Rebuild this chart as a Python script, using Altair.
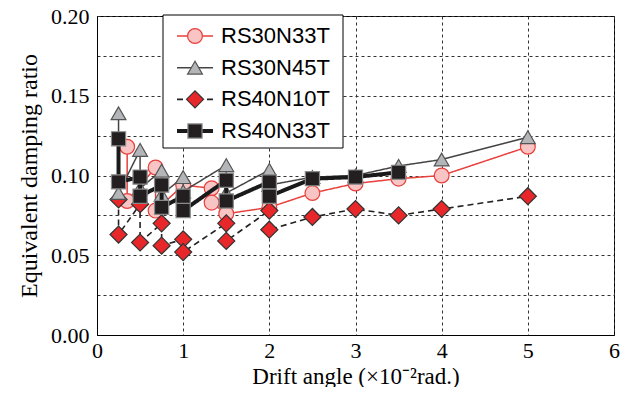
import altair as alt
import pandas as pd

series_names = ["RS30N33T", "RS30N45T", "RS40N10T", "RS40N33T"]

rs30n33t_x = [0.35, 0.35, 0.68, 0.68, 1.0, 1.33, 1.33, 1.5, 2.0, 2.5, 3.0, 3.5, 4.0, 5.0]
rs30n33t_y = [0.118, 0.084, 0.105, 0.078, 0.094, 0.092, 0.083, 0.076, 0.080, 0.089, 0.095, 0.098, 0.100, 0.118]

rs30n45t_x = [0.25, 0.25, 0.5, 0.5, 0.75, 0.75, 1.0, 1.0, 1.5, 1.5, 2.0, 2.0, 2.5, 3.0, 3.5, 4.0, 5.0]
rs30n45t_y = [0.139, 0.089, 0.116, 0.092, 0.103, 0.088, 0.099, 0.090, 0.1065, 0.089, 0.1035, 0.094, 0.099, 0.100, 0.106, 0.110, 0.124]

rs40n10t_x = [0.25, 0.25, 0.5, 0.5, 0.75, 0.75, 1.0, 1.0, 1.5, 1.5, 2.0, 2.0, 2.5, 3.0, 3.5, 4.0, 5.0]
rs40n10t_y = [0.085, 0.063, 0.082, 0.058, 0.070, 0.056, 0.060, 0.052, 0.070, 0.059, 0.078, 0.066, 0.074, 0.079, 0.075, 0.079, 0.087]

rs40n33t_x = [0.25, 0.25, 0.5, 0.5, 0.75, 0.75, 1.0, 1.0, 1.5, 1.5, 2.0, 2.0, 2.5, 3.0, 3.5]
rs40n33t_y = [0.123, 0.096, 0.099, 0.087, 0.094, 0.080, 0.087, 0.078, 0.097, 0.084, 0.096, 0.087, 0.098, 0.099, 0.102]

x_ticks = [0, 1, 2, 3, 4, 5, 6]
y_grid = [0, 0.025, 0.05, 0.075, 0.1, 0.125, 0.15, 0.175, 0.2]

data = {
    "RS30N33T": (rs30n33t_x, rs30n33t_y),
    "RS30N45T": (rs30n45t_x, rs30n45t_y),
    "RS40N10T": (rs40n10t_x, rs40n10t_y),
    "RS40N33T": (rs40n33t_x, rs40n33t_y),
}

styles = {
    "RS30N33T": dict(line="#e8403c", width=1.5, dash=[1, 0], shape="circle", fill="#f8c4c4", stroke="#e8403c", size=220),
    "RS30N45T": dict(line="#444444", width=1.5, dash=[1, 0], shape="triangle-up", fill="#b4b5b8", stroke="#555555", size=220),
    "RS40N10T": dict(line="#222222", width=1.6, dash=[6, 4], shape="diamond", fill="#e8272a", stroke="#333333", size=290),
    "RS40N33T": dict(line="#1a1a1a", width=4, dash=[1, 0], shape="square", fill="#231f20", stroke="#8a8a8a", size=200),
}

draw_order = ["RS30N33T", "RS40N10T", "RS30N45T", "RS40N33T"]

serif = "Liberation Serif"
sans = "Liberation Sans"

x_axis = alt.Axis(values=x_ticks, grid=True, gridDash=[3, 3], gridColor="#333333", ticks=False,
                  labelFontSize=22, labelFont=serif, labelPadding=5, labelColor="black", labelFlush=False,
                  title="Drift angle (×10⁻²rad.)", titleFont=serif, titleFontSize=23,
                  titleFontWeight="normal", titleColor="black", titleBaseline="alphabetic", titleY=48,
                  domainColor="black")
y_axis = alt.Axis(values=y_grid, grid=True, gridDash=[3, 3], gridColor="#333333", ticks=False,
                  labelExpr="round(datum.value*1000) % 50 == 0 ? format(datum.value, '.2f') : ''",
                  labelFontSize=22, labelFont=serif, labelPadding=8, labelColor="black", labelFlush=False,
                  title="Equivalent damping ratio", titleFont=serif, titleFontSize=24,
                  titleFontWeight="normal", titleColor="black", titlePadding=9,
                  domainColor="black")

xs = alt.Scale(domain=[0, 6], nice=False)
ys = alt.Scale(domain=[0, 0.2], nice=False)

main_layers = []
for name in draw_order:
    xv, yv = data[name]
    df = pd.DataFrame({"drift": xv, "ratio": yv, "idx": list(range(len(xv)))})
    st = styles[name]
    enc = dict(x=alt.X("drift:Q", scale=xs, axis=x_axis),
               y=alt.Y("ratio:Q", scale=ys, axis=y_axis))
    line = alt.Chart(df).mark_line(color=st["line"], strokeWidth=st["width"], strokeDash=st["dash"]).encode(
        order=alt.Order("idx:Q"), **enc)
    pts = alt.Chart(df).mark_point(shape=st["shape"], filled=True, fill=st["fill"], stroke=st["stroke"],
                                   strokeWidth=1.2, size=st["size"], opacity=1).encode(**enc)
    main_layers += [line, pts]

main = alt.layer(*main_layers)

# legend
leg_df = pd.DataFrame({"name": series_names})
leg_y = alt.Y("name:N", scale=alt.Scale(type="point", domain=series_names, range=[20, 115], padding=0), axis=None)
frame = alt.Chart(pd.DataFrame({"a": [0]})).mark_rect(fill="white", stroke="black", strokeWidth=1).encode(
    x=alt.value(66), x2=alt.value(246), y=alt.value(-1), y2=alt.value(132))
leg_layers = [frame]
for name in series_names:
    st = styles[name]
    d = leg_df[leg_df["name"] == name]
    leg_layers.append(alt.Chart(d).mark_rule(color=st["line"], strokeWidth=st["width"], strokeDash=st["dash"]).encode(
        x=alt.value(80), x2=alt.value(116), y=leg_y))
    leg_layers.append(alt.Chart(d).mark_point(shape=st["shape"], filled=True, fill=st["fill"], stroke=st["stroke"],
                                              strokeWidth=1.2, size=st["size"], opacity=1).encode(
        x=alt.value(98), y=leg_y))
    leg_layers.append(alt.Chart(d).mark_text(align="left", baseline="middle", font=sans, fontSize=22, color="black").encode(
        x=alt.value(124), y=leg_y, text="name:N"))
legend = alt.layer(*leg_layers)

chart = alt.layer(main, legend).resolve_scale(y="independent").properties(
    width=517, height=319,
    autosize=alt.AutoSizeParams(type="none"),
    padding={"left": 89, "top": 8, "right": 12, "bottom": 52},
).configure_view(stroke="black", strokeWidth=1)

chart.save("out.html", embed_options={"renderer": "svg", "actions": False})
